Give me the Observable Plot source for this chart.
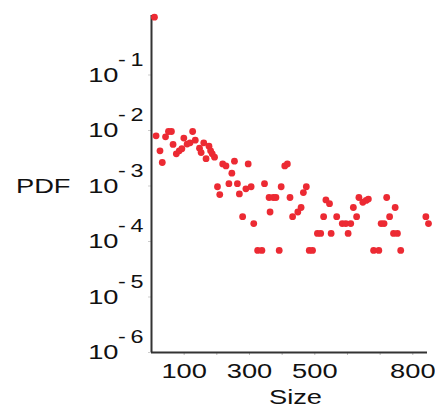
<!DOCTYPE html>
<html><head><meta charset="utf-8">
<script src="https://cdn.jsdelivr.net/npm/d3@7"></script>
<script src="https://cdn.jsdelivr.net/npm/@observablehq/plot@0.6"></script>
<style>body{margin:0;background:#fff;}</style>
</head><body><div id="chart"></div>
<script>
const sizes = [9,14,26,33,43,52,61,66,76,85,93,99,109,118,126,134,147,152,160,167,176,181,186,193,
  202,209,218,228,237,246,254,263,269,279,289,296,305,313,325,338,346,360,363,373,381,391,397,408,416,
  424,432,448,458,465,474,483,493,508,518,527,534,545,550,567,584,595,602,610,618,628,635,647,657,664,
  680,696,703,712,720,729,741,746,753,763,840,848];
const pdfValues = [1.1,8.0e-3,4.3e-3,2.65e-3,7.7e-3,9.6e-3,9.6e-3,5.6e-3,3.8e-3,4.3e-3,4.7e-3,7.3e-3,5.7e-3,6.0e-3,9.6e-3,6.7e-3,4.8e-3,4.0e-3,6.0e-3,3.1e-3,5.2e-3,4.3e-3,3.8e-3,3.3e-3,
  9.7e-4,7.0e-4,2.5e-3,2.3e-3,1.1e-3,1.7e-3,2.8e-3,1.1e-3,7.2e-4,2.8e-4,8.9e-4,2.5e-3,9.7e-4,2.1e-4,6.9e-5,6.9e-5,1.1e-3,6.2e-4,3.4e-4,6.2e-4,6.2e-4,6.9e-5,9.7e-4,2.3e-3,2.5e-3,
  6.2e-4,2.8e-4,3.4e-4,4.1e-4,7.6e-4,9.7e-4,6.9e-5,6.9e-5,1.4e-4,1.4e-4,2.8e-4,5.6e-4,4.8e-4,1.4e-4,2.8e-4,2.1e-4,2.1e-4,1.4e-4,2.1e-4,4.1e-4,2.8e-4,6.2e-4,5.1e-4,5.5e-4,5.8e-4,
  6.9e-5,6.9e-5,2.1e-4,2.1e-4,6.2e-4,2.8e-4,1.4e-4,4.1e-4,1.4e-4,6.9e-5,2.8e-4,2.1e-4];
const yTickExponents = [-1,-2,-3,-4,-5,-6];
const xTickLabels = [100,300,500,800];
const xMinorTicks = [100,200,300,400,500,600,700,800];
const xLabel = "Size";
const yLabel = "PDF";

const points = sizes.map((s,i)=>({size:s, pdf:pdfValues[i]}));
const yTicks = yTickExponents.map(e => ({value: Math.pow(10,e), exp: "-\u2009" + Math.abs(e)}));

const chart = Plot.plot({
  width:435, height:418, marginLeft:151, marginRight:8, marginTop:15, marginBottom:66,
  style:{fontFamily:"'Liberation Sans', Arial, sans-serif", background:"#fff", color:"#111"},
  x:{domain:[0,845], axis:null},
  y:{type:"log", domain:[1e-6,1.18], axis:null},
  marks:[
    Plot.axisX(xMinorTicks, {tickSize:3, tickFormat:()=>"", stroke:"#bbb", label:null}),
    Plot.axisY(yTicks.map(d=>d.value), {tickSize:3, tickFormat:()=>"", stroke:"#ccc", label:null}),
    Plot.ruleX([0], {stroke:"#333", strokeWidth:2}),
    Plot.ruleY([1e-6], {stroke:"#333", strokeWidth:2}),
    Plot.text(xTickLabels, {x:d=>d, text:d=>String(d), frameAnchor:"bottom", lineAnchor:"top", dy:11, fontSize:21, fill:"#111"}),
    Plot.text(yTicks, {y:"value", text:()=>"10", frameAnchor:"left", textAnchor:"end", dx:-33, fontSize:21, fill:"#111"}),
    Plot.text(yTicks, {y:"value", text:"exp", frameAnchor:"left", textAnchor:"end", dx:-8, dy:-15, fontSize:18, fill:"#111"}),
    Plot.text([yLabel], {y:()=>1e-3, frameAnchor:"left", textAnchor:"end", dx:-81, fontSize:21, fill:"#111"}),
    Plot.text([xLabel], {frameAnchor:"bottom", dx:6, dy:51, fontSize:21, fill:"#111"}),
    Plot.dot(points, {x:"size", y:"pdf", r:3.4, fill:"#ec2a33"})
  ]
});
chart.querySelectorAll("text").forEach(t => {
  const tr = t.getAttribute("transform") || "";
  const x = parseFloat(t.getAttribute("x")) || 0;
  t.setAttribute("transform", `${tr} translate(${x},0) scale(1.3,1) translate(${-x},0)`);
});
document.getElementById("chart").appendChild(chart);
</script>
</body></html>
